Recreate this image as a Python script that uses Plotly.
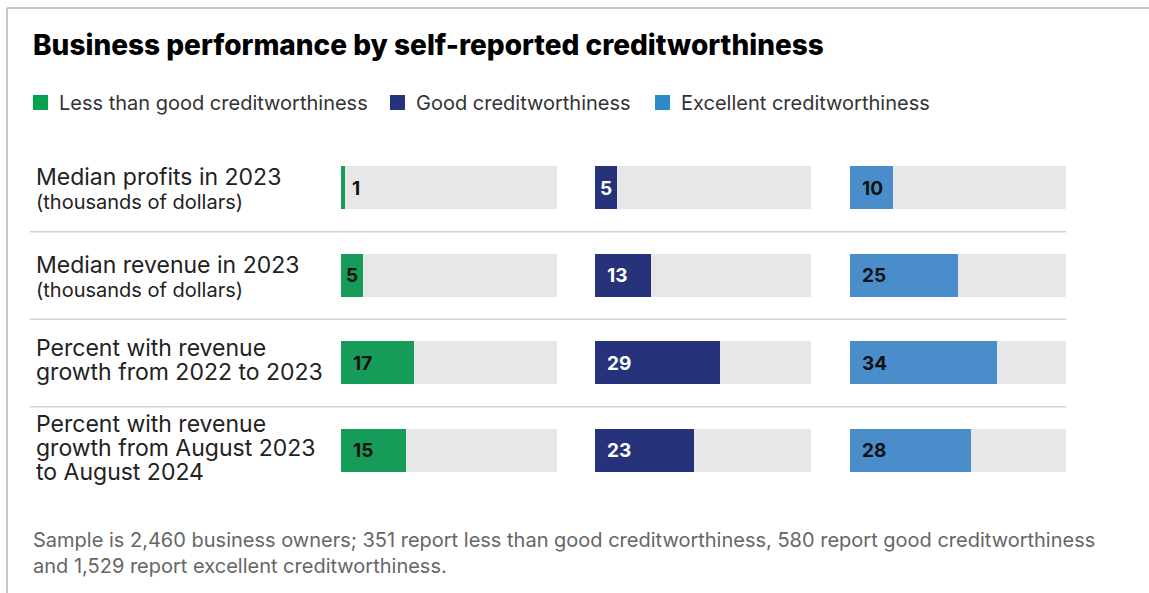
import plotly.graph_objects as go

# ---------------- data ----------------
ROW_LABELS = [
    ["Median profits in 2023"],
    ["Median revenue in 2023"],
    ["Percent with revenue", "growth from 2022 to 2023"],
    ["Percent with revenue", "growth from August 2023", "to August 2024"],
]
ROW_NOTES = ["(thousands of dollars)", "(thousands of dollars)", "", ""]
SERIES_NAMES = ["Less than good creditworthiness", "Good creditworthiness", "Excellent creditworthiness"]
LESS_THAN_GOOD = [1, 5, 17, 15]
GOOD = [5, 13, 29, 23]
EXCELLENT = [10, 25, 34, 28]
SCALE_MAX = 50
TITLE = "Business performance by self-reported creditworthiness"
FOOTNOTE = ("Sample is 2,460 business owners; 351 report less than good creditworthiness, "
            "580 report good creditworthiness<br>and 1,529 report excellent creditworthiness.")

# ---------------- styling ----------------
W, H = 1149, 593
FONT = "Inter"
BAR_COLORS = ["#169b58", "#26337a", "#4a8dcb"]
LEGEND_COLORS = ["#05a050", "#26337a", "#2a8cc4"]
TEXT_COLORS = ["#111111", "#ffffff", "#111111"]
TRACK = "#e6e7e6"


def px(x):
    return x / W


def py(y):
    return 1 - y / H


series = [LESS_THAN_GOOD, GOOD, EXCELLENT]
col_px = [(341, 557), (595, 811), (850, 1066)]
ydom = [py(494.25), py(144.25)]
rows = list(range(len(ROW_LABELS)))

fig = go.Figure()
annotations = []
shapes = []

for c, vals in enumerate(series):
    xa = "x" if c == 0 else f"x{c+1}"
    # track
    fig.add_trace(go.Bar(
        x=[SCALE_MAX] * len(rows), y=rows, orientation="h", width=0.49,
        marker=dict(color=TRACK, line=dict(width=0)), xaxis=xa, yaxis="y",
        hoverinfo="skip", showlegend=False))
    fig.add_trace(go.Bar(
        x=vals, y=rows, orientation="h", width=0.49, name=SERIES_NAMES[c],
        marker=dict(color=BAR_COLORS[c], line=dict(width=0)), xaxis=xa, yaxis="y",
        showlegend=False))
    for r, v in zip(rows, vals):
        if v < 3:
            ax, anchor, shift = 0, "left", 9
        elif v <= 5:
            ax, anchor, shift = v / 2, "center", 0
        else:
            ax, anchor, shift = 0, "left", 10
        annotations.append(dict(
            x=ax, y=r, xref=xa, yref="y", xanchor=anchor, yanchor="middle",
            xshift=shift, text=f"<b>{v}</b>", showarrow=False,
            font=dict(family=FONT, size=19, color=TEXT_COLORS[c])))

# row labels
LINE_H = 24
for r, (lines, note) in enumerate(zip(ROW_LABELS, ROW_NOTES)):
    all_lines = [(t, 23) for t in lines] + ([(note, 20)] if note else [])
    n = len(all_lines)
    for k, (t, size) in enumerate(all_lines):
        off = (k - (n - 1) / 2) * LINE_H
        if note:
            off += 1 if size == 23 else 2
        else:
            off -= 3
        annotations.append(dict(
            x=px(34), y=r, xref="paper", yref="y", xanchor="left", yanchor="middle",
            yshift=-off, text=t, showarrow=False,
            font=dict(family=FONT, size=size, color="#222222")))

# separators
for r in rows[:-1]:
    shapes.append(dict(type="line", xref="paper", yref="y", x0=px(30), x1=px(1066),
                       y0=r + 0.5, y1=r + 0.5, line=dict(color="#d2d2d2", width=1.5)))

# border
shapes.append(dict(type="line", xref="paper", yref="paper", x0=px(7), x1=1, y0=py(8), y1=py(8),
                   line=dict(color="#c8c8c8", width=2)))
shapes.append(dict(type="line", xref="paper", yref="paper", x0=px(7), x1=px(7), y0=py(8), y1=0,
                   line=dict(color="#c8c8c8", width=2)))

# title
annotations.append(dict(x=px(31), y=py(45), xref="paper", yref="paper", xanchor="left",
                        yanchor="middle", text=TITLE, showarrow=False,
                        font=dict(family=FONT, size=28, weight=800, color="#000000")))

# legend
leg_sq = [33, 390, 655]
for i, name in enumerate(SERIES_NAMES):
    shapes.append(dict(type="rect", xref="paper", yref="paper",
                       x0=px(leg_sq[i]), x1=px(leg_sq[i] + 15), y0=py(110), y1=py(95),
                       fillcolor=LEGEND_COLORS[i], line=dict(width=0)))
    annotations.append(dict(x=px(leg_sq[i] + 24), y=py(103), xref="paper", yref="paper",
                            xanchor="left", yanchor="middle", text=name, showarrow=False,
                            font=dict(family=FONT, size=20, color="#333333")))

# footnote
annotations.append(dict(x=px(31), y=py(553), xref="paper", yref="paper", xanchor="left",
                        yanchor="middle", text=FOOTNOTE, showarrow=False, align="left",
                        font=dict(family=FONT, size=20, color="#666666")))

axis_common = dict(range=[0, SCALE_MAX], showgrid=False, zeroline=False, showticklabels=False,
                   showline=False, fixedrange=True)
layout = dict(
    width=W, height=H, margin=dict(l=0, r=0, t=0, b=0),
    paper_bgcolor="white", plot_bgcolor="white", barmode="overlay", bargap=0,
    showlegend=False,
    yaxis=dict(domain=ydom, range=[3.5, -0.5], showgrid=False, zeroline=False,
               showticklabels=False, showline=False, fixedrange=True),
    annotations=annotations, shapes=shapes,
)
for c, (a, b) in enumerate(col_px):
    key = "xaxis" if c == 0 else f"xaxis{c+1}"
    layout[key] = dict(domain=[px(a), px(b)], anchor="y", **axis_common)
fig.update_layout(**layout)

fig.write_html("out.html")
